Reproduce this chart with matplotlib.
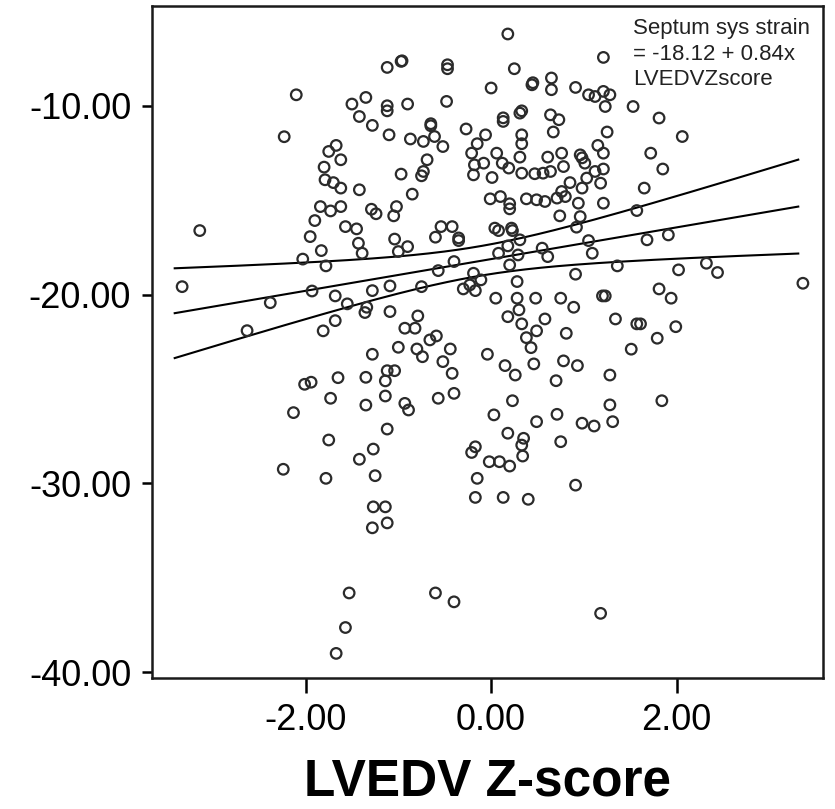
import numpy as np
import matplotlib

matplotlib.use("Agg")
import matplotlib.pyplot as plt

plt.rcParams["font.family"] = ["Liberation Sans", "DejaVu Sans"]

# LVEDV z-score per patient
lvedv_z = [
    -2.10, -2.23, -3.14, -1.95, -2.03, -3.33, -1.93, -2.38, -2.63, -2.01,
    -1.94, -2.13, -2.24, -1.12, -0.97, -0.96, -0.47, -0.47, -1.50, -1.35,
    -1.12, -1.12, -0.90, -0.48, -1.42, -1.28, -1.10, -0.87, -0.73, -0.65,
    -0.65, -0.61, -0.52, -0.27, -0.06, -0.15, -0.21, -0.18, -0.19, -1.67,
    -1.75, -1.62, -1.80, -0.69, -0.73, -0.75, -0.97, -1.79, -1.70, -1.62,
    -1.42, -0.85, -1.84, -1.73, -1.62, -1.29, -1.24, -1.02, -1.05, -1.90,
    -1.57, -1.45, -0.54, -0.42, 0.18, 1.21, 0.25, 0.00, 0.44, 0.45,
    0.65, 0.65, 0.91, 1.05, 1.12, 1.21, 1.28, 1.23, 1.53, 0.31,
    0.33, 0.13, 0.13, 0.64, 0.73, 0.67, 1.25, 0.33, 0.33, 1.15,
    1.21, 0.06, 0.31, 0.61, 0.76, 0.96, 0.98, 1.01, -0.08, 0.12,
    0.19, 0.01, 0.33, 0.47, 0.56, 0.64, 0.78, 1.12, 1.21, 1.03,
    0.85, 0.98, 1.18, 0.76, -0.01, 0.10, 0.20, 0.20, 0.38, 0.49,
    0.58, 0.71, 0.80, 0.94, 1.21, 0.74, 0.96, 0.04, 0.22, 1.57,
    1.81, 2.06, 1.72, 1.85, 1.65, -1.43, -1.39, -1.83, -1.78, -1.04,
    -0.90, -1.00, -0.60, -0.35, -0.35, -0.40, -0.57, -0.19, -0.30, -0.23,
    -0.17, -0.75, -1.09, -1.28, -1.68, -1.55, -1.34, -1.36, -1.09, -1.68,
    -1.81, -0.79, -0.93, -0.82, -0.66, -0.59, -1.28, -1.00, -0.80, -0.74,
    -0.44, -0.52, -0.42, -1.12, -1.04, -1.14, -1.65, -1.35, -1.73, -1.14,
    -1.35, -0.93, -0.89, -0.57, -0.40, -1.12, -1.75, -1.27, -0.17, 0.08,
    0.23, 0.31, 0.18, 0.08, 0.29, 0.20, 0.55, 0.61, 0.92, 1.05,
    1.09, 1.36, -0.11, 0.28, 0.91, 0.05, 0.28, 0.48, 0.75, 0.89,
    1.23, 1.20, 0.30, 0.18, 0.33, 0.58, 1.34, 1.57, 0.49, 0.38,
    0.81, 0.43, 1.51, -0.04, 0.15, 0.26, 0.46, 0.78, 0.93, 0.70,
    1.28, 0.23, 1.28, 0.03, 0.49, 0.71, 0.98, 1.11, 1.31, 0.18,
    0.35, 0.33, 0.75, 1.68, 1.91, 2.02, 2.32, 2.44, 3.36, 1.81,
    1.94, 1.61, 1.99, 1.79, 1.84, -1.42, -1.78, -1.25, -1.27, -1.14,
    -1.28, -1.12, -1.53, -1.57, -1.67, -0.60, -0.40, -0.21, -0.15, -0.17,
    -0.02, 0.09, 0.20, 0.34, 0.13, 0.40, 0.91, 1.18,
]

# septal systolic strain (%) per patient
septum_strain = [
    -9.42, -11.64, -16.61, -16.93, -18.12, -19.58, -19.81, -20.43, -21.91, -24.75,
    -24.64, -26.25, -29.25, -7.97, -7.65, -7.62, -7.83, -8.04, -9.91, -9.56,
    -10.00, -10.27, -9.91, -9.77, -10.57, -11.04, -11.54, -11.76, -11.89, -10.95,
    -11.06, -11.63, -12.16, -11.23, -11.54, -12.01, -12.51, -13.13, -13.66, -12.10,
    -12.42, -12.86, -13.25, -12.86, -13.48, -13.71, -13.62, -13.92, -14.07, -14.36,
    -14.45, -14.68, -15.34, -15.57, -15.34, -15.48, -15.72, -15.34, -15.83, -16.08,
    -16.40, -16.52, -16.40, -16.40, -6.20, -7.44, -8.04, -9.06, -8.89, -8.78,
    -8.53, -9.15, -9.03, -9.42, -9.51, -9.24, -9.42, -10.04, -10.04, -10.39,
    -10.27, -10.83, -10.64, -10.48, -10.74, -11.39, -11.39, -11.54, -12.01, -12.10,
    -12.51, -12.51, -12.72, -12.72, -12.51, -12.60, -12.76, -13.04, -13.04, -13.04,
    -13.30, -13.80, -13.57, -13.60, -13.57, -13.48, -13.22, -13.48, -13.35, -13.83,
    -14.07, -14.36, -14.10, -14.54, -14.93, -14.81, -15.19, -15.46, -14.93, -14.98,
    -15.07, -14.89, -14.81, -15.16, -15.16, -15.83, -15.87, -16.48, -16.48, -15.55,
    -10.65, -11.63, -12.51, -13.35, -14.36, -17.28, -17.81, -17.67, -18.48, -17.06,
    -17.46, -17.72, -16.96, -17.14, -17.00, -18.25, -18.73, -18.87, -19.70, -19.49,
    -19.79, -19.58, -19.54, -19.79, -20.07, -20.49, -20.67, -20.95, -20.90, -21.38,
    -21.92, -21.13, -21.78, -21.78, -22.40, -22.19, -23.16, -22.79, -22.88, -23.29,
    -22.88, -23.55, -24.17, -24.03, -24.03, -24.57, -24.40, -24.38, -25.49, -25.37,
    -25.85, -25.76, -26.11, -25.49, -25.23, -27.12, -27.70, -28.18, -28.06, -16.61,
    -16.61, -17.10, -17.42, -17.81, -17.90, -18.43, -17.54, -17.99, -16.43, -17.14,
    -17.81, -18.48, -19.22, -19.31, -18.92, -20.19, -20.19, -20.19, -20.19, -20.67,
    -20.07, -20.07, -20.81, -21.17, -21.55, -21.29, -21.29, -21.55, -21.92, -22.28,
    -22.05, -22.81, -22.89, -23.16, -23.76, -24.26, -23.67, -23.51, -23.76, -24.56,
    -24.26, -25.62, -25.84, -26.37, -26.73, -26.34, -26.81, -26.96, -26.73, -27.34,
    -27.61, -27.97, -27.79, -17.10, -16.84, -18.69, -18.34, -18.83, -19.40, -19.70,
    -20.19, -21.55, -21.70, -22.31, -25.62, -28.72, -29.73, -29.59, -31.24, -31.24,
    -32.35, -32.09, -35.80, -37.63, -39.00, -35.80, -36.27, -28.36, -29.73, -30.74,
    -28.85, -28.85, -29.08, -28.55, -30.74, -30.84, -30.09, -36.88,
]

# reported linear fit
FIT_INTERCEPT = -18.12
FIT_SLOPE = 0.84
T_95 = 1.97

x_ticks = [-2.0, 0.0, 2.0]
y_ticks = [-10.0, -20.0, -30.0, -40.0]


def mean_ci_band(x, y, grid):
    """95% confidence band of the fitted mean around the reported line."""
    residuals = y - (FIT_INTERCEPT + FIT_SLOPE * x)
    n = len(x)
    s = np.sqrt(np.sum(residuals ** 2) / (n - 2))
    sxx = np.sum((x - x.mean()) ** 2)
    half = T_95 * s * np.sqrt(1.0 / n + (grid - x.mean()) ** 2 / sxx)
    centre = FIT_INTERCEPT + FIT_SLOPE * grid
    return centre, centre - half, centre + half


x = np.array(lvedv_z)
y = np.array(septum_strain)

fig = plt.figure(figsize=(8.35, 8.09), dpi=100)
ax = fig.add_axes([0.182, 0.162, 0.804, 0.831])

ax.scatter(x, y, s=58, facecolors="none", edgecolors="#2b2b2b", linewidths=1.6, zorder=3)

grid = np.linspace(x.min() - 0.08, x.max() - 0.05, 200)
centre, lower, upper = mean_ci_band(x, y, grid)
for line in (centre, lower, upper):
    ax.plot(grid, line, color="black", linewidth=1.5, zorder=2)

ax.text(0.717, 0.982, f"Septum sys strain\n= {FIT_INTERCEPT:.2f} + {FIT_SLOPE:.2f}x\nLVEDVZscore",
        transform=ax.transAxes, ha="left", va="top", fontsize=16, color="#222222",
        linespacing=1.3)

ax.set_xlim(-3.655, 3.58)
ax.set_ylim(-40.3, -4.7)
ax.set_xticks(x_ticks)
ax.set_xticklabels([f"{v:.2f}" for v in x_ticks])
ax.set_yticks(y_ticks)
ax.set_yticklabels([f"{v:.2f}" for v in y_ticks])
ax.tick_params(axis="x", direction="out", length=11, width=1.8, pad=7, labelsize=26)
ax.tick_params(axis="y", direction="out", length=7, width=1.8, pad=8, labelsize=26)

for spine in ax.spines.values():
    spine.set_linewidth(1.8)
    spine.set_color("#1a1a1a")

ax.set_xlabel("LVEDV Z-score", fontsize=37, fontweight="bold", labelpad=14)

fig.savefig("out.png", dpi=100)
